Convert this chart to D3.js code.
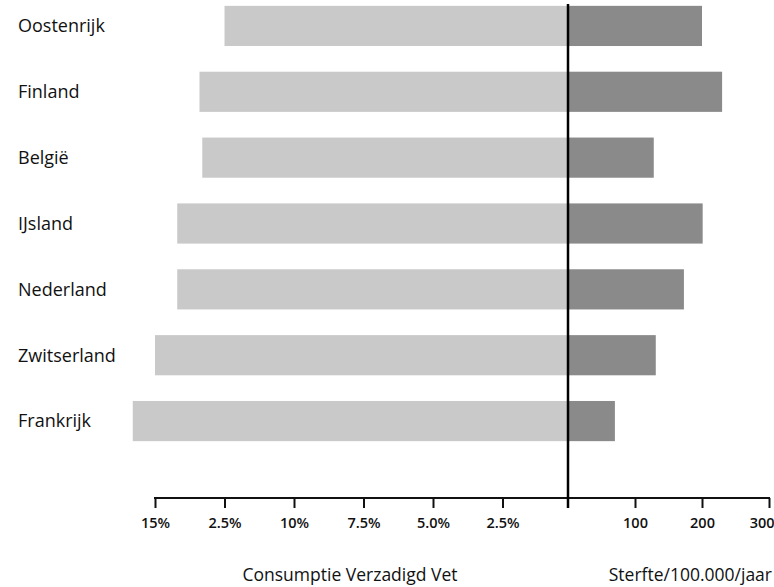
<!DOCTYPE html>
<html>
<head>
<meta charset="utf-8">
<script src="https://cdn.jsdelivr.net/npm/d3@7"></script>
<style>
  html, body { margin: 0; padding: 0; background: #fff; }
  svg { display: block; font-family: "Open Sans", "DejaVu Sans", sans-serif; }
</style>
</head>
<body>
<svg id="chart" width="774" height="587"></svg>
<script>
// ---- data ----
const countries = ["Oostenrijk", "Finland", "België", "IJsland", "Nederland", "Zwitserland", "Frankrijk"];
const fatConsumption = [12.5, 13.4, 13.3, 14.2, 14.2, 15.0, 15.8];   // % saturated fat
const mortality = [200, 230, 128, 201, 173, 131, 70];                 // deaths / 100.000 / year
const leftTickValues = [15, 12.5, 10, 7.5, 5, 2.5];
const leftTickLabels = ["15%", "2.5%", "10%", "7.5%", "5.0%", "2.5%"];
const rightTickValues = [100, 200, 300];
const rightTickLabels = ["100", "200", "300"];
const leftTitle = "Consumptie Verzadigd Vet";
const rightTitle = "Sterfte/100.000/jaar";

const svg = d3.select("#chart");

const centerX = 568;
const axisY = 498;

const xLeft = d3.scaleLinear().domain([15, 0]).range([155, 572]);
const xRight = d3.scaleLinear().domain([0, 300]).range([centerX, 769]);
const y = d3.scaleBand().domain(countries).range([-7, 454]).paddingInner(0.39).paddingOuter(0.195);

const rows = countries.map((c, i) => ({ c, fat: fatConsumption[i], mort: mortality[i] }));

// left bars
svg.append("g").selectAll("rect").data(rows).join("rect")
  .attr("x", d => xLeft(d.fat))
  .attr("y", d => y(d.c))
  .attr("width", d => centerX - xLeft(d.fat))
  .attr("height", y.bandwidth())
  .attr("fill", "#c9c9c9");

// right bars
svg.append("g").selectAll("rect").data(rows).join("rect")
  .attr("x", centerX)
  .attr("y", d => y(d.c))
  .attr("width", d => xRight(d.mort) - centerX)
  .attr("height", y.bandwidth())
  .attr("fill", "#8a8a8a");

// country labels
svg.append("g").selectAll("text").data(rows).join("text")
  .attr("x", 18)
  .attr("y", d => y(d.c) + y.bandwidth() / 2)
  .attr("dy", "0.35em")
  .attr("font-size", 18)
  .attr("fill", "#111")
  .text(d => d.c);

// axes
const leftAxis = d3.axisBottom(xLeft)
  .tickValues(leftTickValues)
  .tickFormat((d, i) => leftTickLabels[i])
  .tickSize(10).tickSizeOuter(0).tickPadding(10);
const rightAxis = d3.axisBottom(xRight)
  .tickValues(rightTickValues)
  .tickFormat((d, i) => rightTickLabels[i])
  .tickSize(10).tickSizeOuter(0).tickPadding(10);

const gl = svg.append("g").attr("transform", `translate(0,${axisY})`).call(leftAxis);
const gr = svg.append("g").attr("transform", `translate(0,${axisY})`).call(rightAxis);
[gl, gr].forEach(g => {
  g.select(".domain").remove();
  g.selectAll(".tick line").attr("stroke", "#111").attr("stroke-width", 2);
  g.selectAll(".tick text").attr("font-size", 14.5).attr("font-weight", 600).attr("fill", "#111")
    .attr("font-family", "\"Open Sans\", sans-serif");
});
// keep the last right-hand label inside the picture
gr.selectAll(".tick text").filter(d => d === 300).attr("text-anchor", "end").attr("dx", 5);

// axis baseline
svg.append("line")
  .attr("x1", xLeft(15) - 1).attr("x2", xRight(300) + 1)
  .attr("y1", axisY).attr("y2", axisY)
  .attr("stroke", "#111").attr("stroke-width", 2);

// center vertical line
svg.append("line")
  .attr("x1", centerX).attr("x2", centerX)
  .attr("y1", 4).attr("y2", axisY + 10)
  .attr("stroke", "#000").attr("stroke-width", 2.5);

// titles
svg.append("text")
  .attr("x", 350).attr("y", 581)
  .attr("text-anchor", "middle")
  .attr("font-size", 17.5).attr("fill", "#111")
  .text(leftTitle);
svg.append("text")
  .attr("x", 772).attr("y", 581)
  .attr("text-anchor", "end")
  .attr("font-size", 17.5).attr("fill", "#111")
  .text(rightTitle);
</script>
</body>
</html>
